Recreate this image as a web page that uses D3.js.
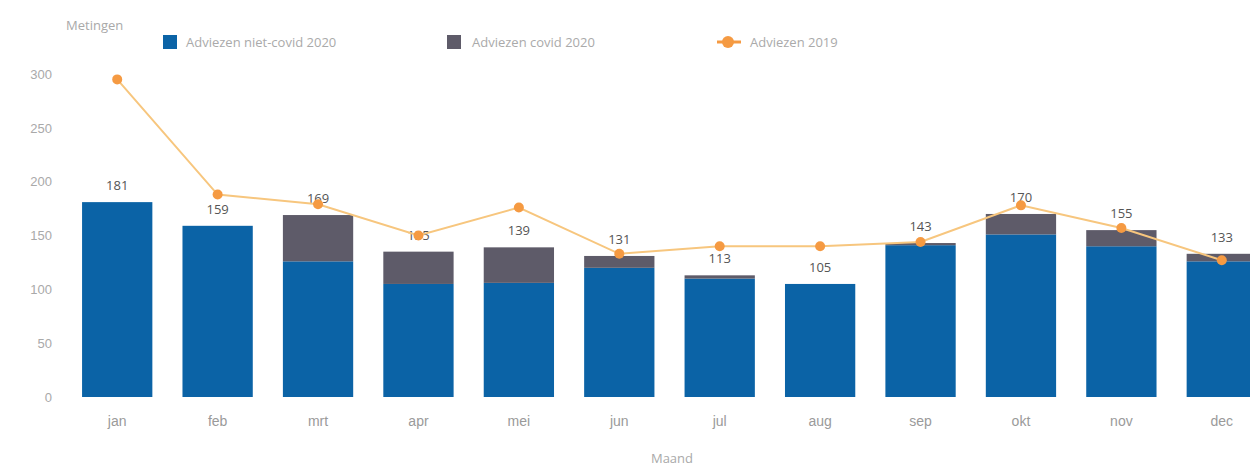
<!DOCTYPE html>
<html>
<head>
<meta charset="utf-8">
<script src="https://cdn.jsdelivr.net/npm/d3@7"></script>
<style>
  html, body { margin: 0; padding: 0; background: #fff; }
  svg { display: block; font-family: "Open Sans", sans-serif; }
</style>
</head>
<body>
<svg id="chart" width="1250" height="468"></svg>
<script>
// Maandelijkse adviezen: 2020 gesplitst in niet-covid en covid, 2019 als lijn
const months = ["jan", "feb", "mrt", "apr", "mei", "jun", "jul", "aug", "sep", "okt", "nov", "dec"];
const nonCovid2020 = [181, 159, 126, 105, 106, 120, 110, 105, 141, 151, 140, 126];
const covid2020    = [0, 0, 43, 30, 33, 11, 3, 0, 2, 19, 15, 7];
const total2020    = [181, 159, 169, 135, 139, 131, 113, 105, 143, 170, 155, 133];
const advice2019   = [295, 188, 179, 150, 176, 133, 140, 140, 144, 178, 157, 127];
const yTicks       = [0, 50, 100, 150, 200, 250, 300];
const seriesNames  = ["Adviezen niet-covid 2020", "Adviezen covid 2020", "Adviezen 2019"];

const colors = { nonCovid: "#0b63a6", covid: "#5e5b69", line: "#f7c67e", dot: "#f59a42" };

const svg = d3.select("#chart");

const x = d3.scaleBand().domain(months).range([67, 1272]).paddingInner(0.3).paddingOuter(0.15);
const y = d3.scaleLinear().domain([0, 300]).range([397, 74]);

// Y-as
const yAxis = svg.append("g")
  .attr("transform", "translate(52,0)")
  .call(d3.axisLeft(y).tickValues(yTicks).tickSize(0).tickPadding(0));
yAxis.select(".domain").remove();
yAxis.selectAll("text").attr("fill", "#a9a9a9").attr("font-size", 13).attr("text-anchor", "end");

// X-as
const xAxis = svg.append("g")
  .attr("transform", "translate(0,410)")
  .call(d3.axisBottom(x).tickSize(0).tickPadding(6));
xAxis.select(".domain").remove();
xAxis.selectAll("text").attr("fill", "#9a9a9a").attr("font-size", 14);

// Astitels
svg.append("text").attr("x", 66).attr("y", 30).attr("fill", "#a9a9a9").attr("font-size", 13).text("Metingen");
svg.append("text").attr("x", 672).attr("y", 463).attr("text-anchor", "middle").attr("fill", "#a9a9a9").attr("font-size", 13).text("Maand");

// Gestapelde staven
const rows = months.map((m, i) => ({ m, nc: nonCovid2020[i], c: covid2020[i], t: total2020[i], p: advice2019[i] }));

svg.append("g").selectAll("rect").data(rows).join("rect")
  .attr("x", d => x(d.m)).attr("width", x.bandwidth())
  .attr("y", d => y(d.nc)).attr("height", d => y(0) - y(d.nc))
  .attr("fill", colors.nonCovid);

svg.append("g").selectAll("rect").data(rows.filter(d => d.c > 0)).join("rect")
  .attr("x", d => x(d.m)).attr("width", x.bandwidth())
  .attr("y", d => y(d.nc + d.c)).attr("height", d => y(d.nc) - y(d.nc + d.c))
  .attr("fill", colors.covid);

// Totaallabels boven de staven
svg.append("g").selectAll("text").data(rows).join("text")
  .attr("x", d => x(d.m) + x.bandwidth() / 2)
  .attr("y", d => y(d.t) - 12)
  .attr("text-anchor", "middle").attr("font-size", 13).attr("fill", "#555")
  .text(d => d.t);

// Lijn 2019
const cx = d => x(d.m) + x.bandwidth() / 2;
svg.append("path").datum(rows)
  .attr("fill", "none").attr("stroke", colors.line).attr("stroke-width", 2)
  .attr("d", d3.line().x(cx).y(d => y(d.p)));
svg.append("g").selectAll("circle").data(rows).join("circle")
  .attr("cx", cx).attr("cy", d => y(d.p)).attr("r", 5).attr("fill", colors.dot);

// Legenda
const legend = svg.append("g").attr("font-size", 13).attr("fill", "#aaa");
legend.append("rect").attr("x", 163).attr("y", 35).attr("width", 14).attr("height", 14).attr("fill", colors.nonCovid);
legend.append("text").attr("x", 186).attr("y", 47).text(seriesNames[0]);
legend.append("rect").attr("x", 447).attr("y", 35).attr("width", 14).attr("height", 14).attr("fill", colors.covid);
legend.append("text").attr("x", 472).attr("y", 47).text(seriesNames[1]);
legend.append("line").attr("x1", 717).attr("x2", 741).attr("y1", 42).attr("y2", 42).attr("stroke", colors.dot).attr("stroke-width", 3);
legend.append("circle").attr("cx", 728).attr("cy", 42).attr("r", 6).attr("fill", colors.dot);
legend.append("text").attr("x", 750).attr("y", 47).text(seriesNames[2]);
</script>
</body>
</html>
